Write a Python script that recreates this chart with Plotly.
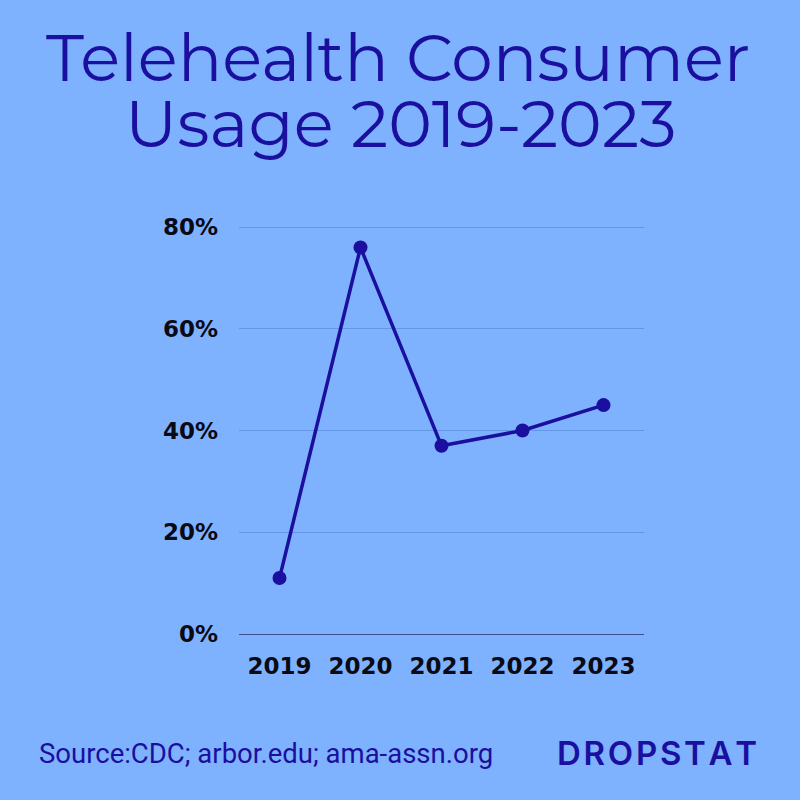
import plotly.graph_objects as go

years = ["2019", "2020", "2021", "2022", "2023"]
usage = [11, 76, 37, 40, 45]
y_ticks = [0, 20, 40, 60, 80]
y_tick_labels = ["0%", "20%", "40%", "60%", "80%"]

BG = "#7fb2fe"
DARK = "#1a0f9e"

fig = go.Figure()
fig.add_trace(go.Scatter(
    x=years, y=usage, mode="lines+markers",
    line=dict(color=DARK, width=3.5),
    marker=dict(color=DARK, size=14),
    hoverinfo="skip",
))

L, R, T, B = 239, 156, 222, 166
pw = 800 - L - R
ph = 800 - T - B

fig.update_layout(
    width=800, height=800,
    paper_bgcolor=BG, plot_bgcolor=BG,
    margin=dict(l=L, r=R, t=T, b=B),
    showlegend=False,
    xaxis=dict(
        type="category", range=[-0.5, 4.5],
        showgrid=False, zeroline=False, showline=False,
        ticks="", ticklabelstandoff=16,
        tickfont=dict(family="DejaVu Sans", size=23, color="#0a0a14", weight=700),
        fixedrange=True,
    ),
    yaxis=dict(
        range=[0, 81], tickvals=y_ticks, ticktext=y_tick_labels,
        showgrid=True, gridcolor="#6496e6", gridwidth=1,
        zeroline=True, zerolinecolor="#3d4f8f", zerolinewidth=1,
        showline=False, ticks="", ticklabelstandoff=20,
        tickfont=dict(family="DejaVu Sans", size=23, color="#0a0a14", weight=700),
        fixedrange=True,
    ),
)

def xp(px):
    return (px - L) / pw

def yp(py):
    return (800 - B - py) / ph

title_font = dict(family="Montserrat, Noto Sans, sans-serif", size=66, color=DARK)
fig.add_annotation(text="Telehealth Consumer", x=xp(398), xref="paper", xanchor="center",
                   y=yp(57), yref="paper", yanchor="middle", showarrow=False, font=title_font)
fig.add_annotation(text="Usage 2019-2023", x=xp(401), xref="paper", xanchor="center",
                   y=yp(123), yref="paper", yanchor="middle", showarrow=False, font=title_font)
fig.add_annotation(text="Source:CDC; arbor.edu; ama-assn.org", x=xp(37), xref="paper",
                   xanchor="left", y=yp(753), yref="paper", yanchor="middle", showarrow=False,
                   font=dict(family="Roboto", size=27.5, color=DARK))
fig.add_annotation(text="\u200a".join("DROPSTAT"), x=xp(759), xref="paper",
                   xanchor="right", y=yp(753), yref="paper", yanchor="middle", showarrow=False,
                   font=dict(family="Inter", size=33, color=DARK, weight=600))

fig.write_html("out.html", config={"displayModeBar": False},
               post_script="document.body.style.margin='0';document.body.style.background='#7fb2fe';")
